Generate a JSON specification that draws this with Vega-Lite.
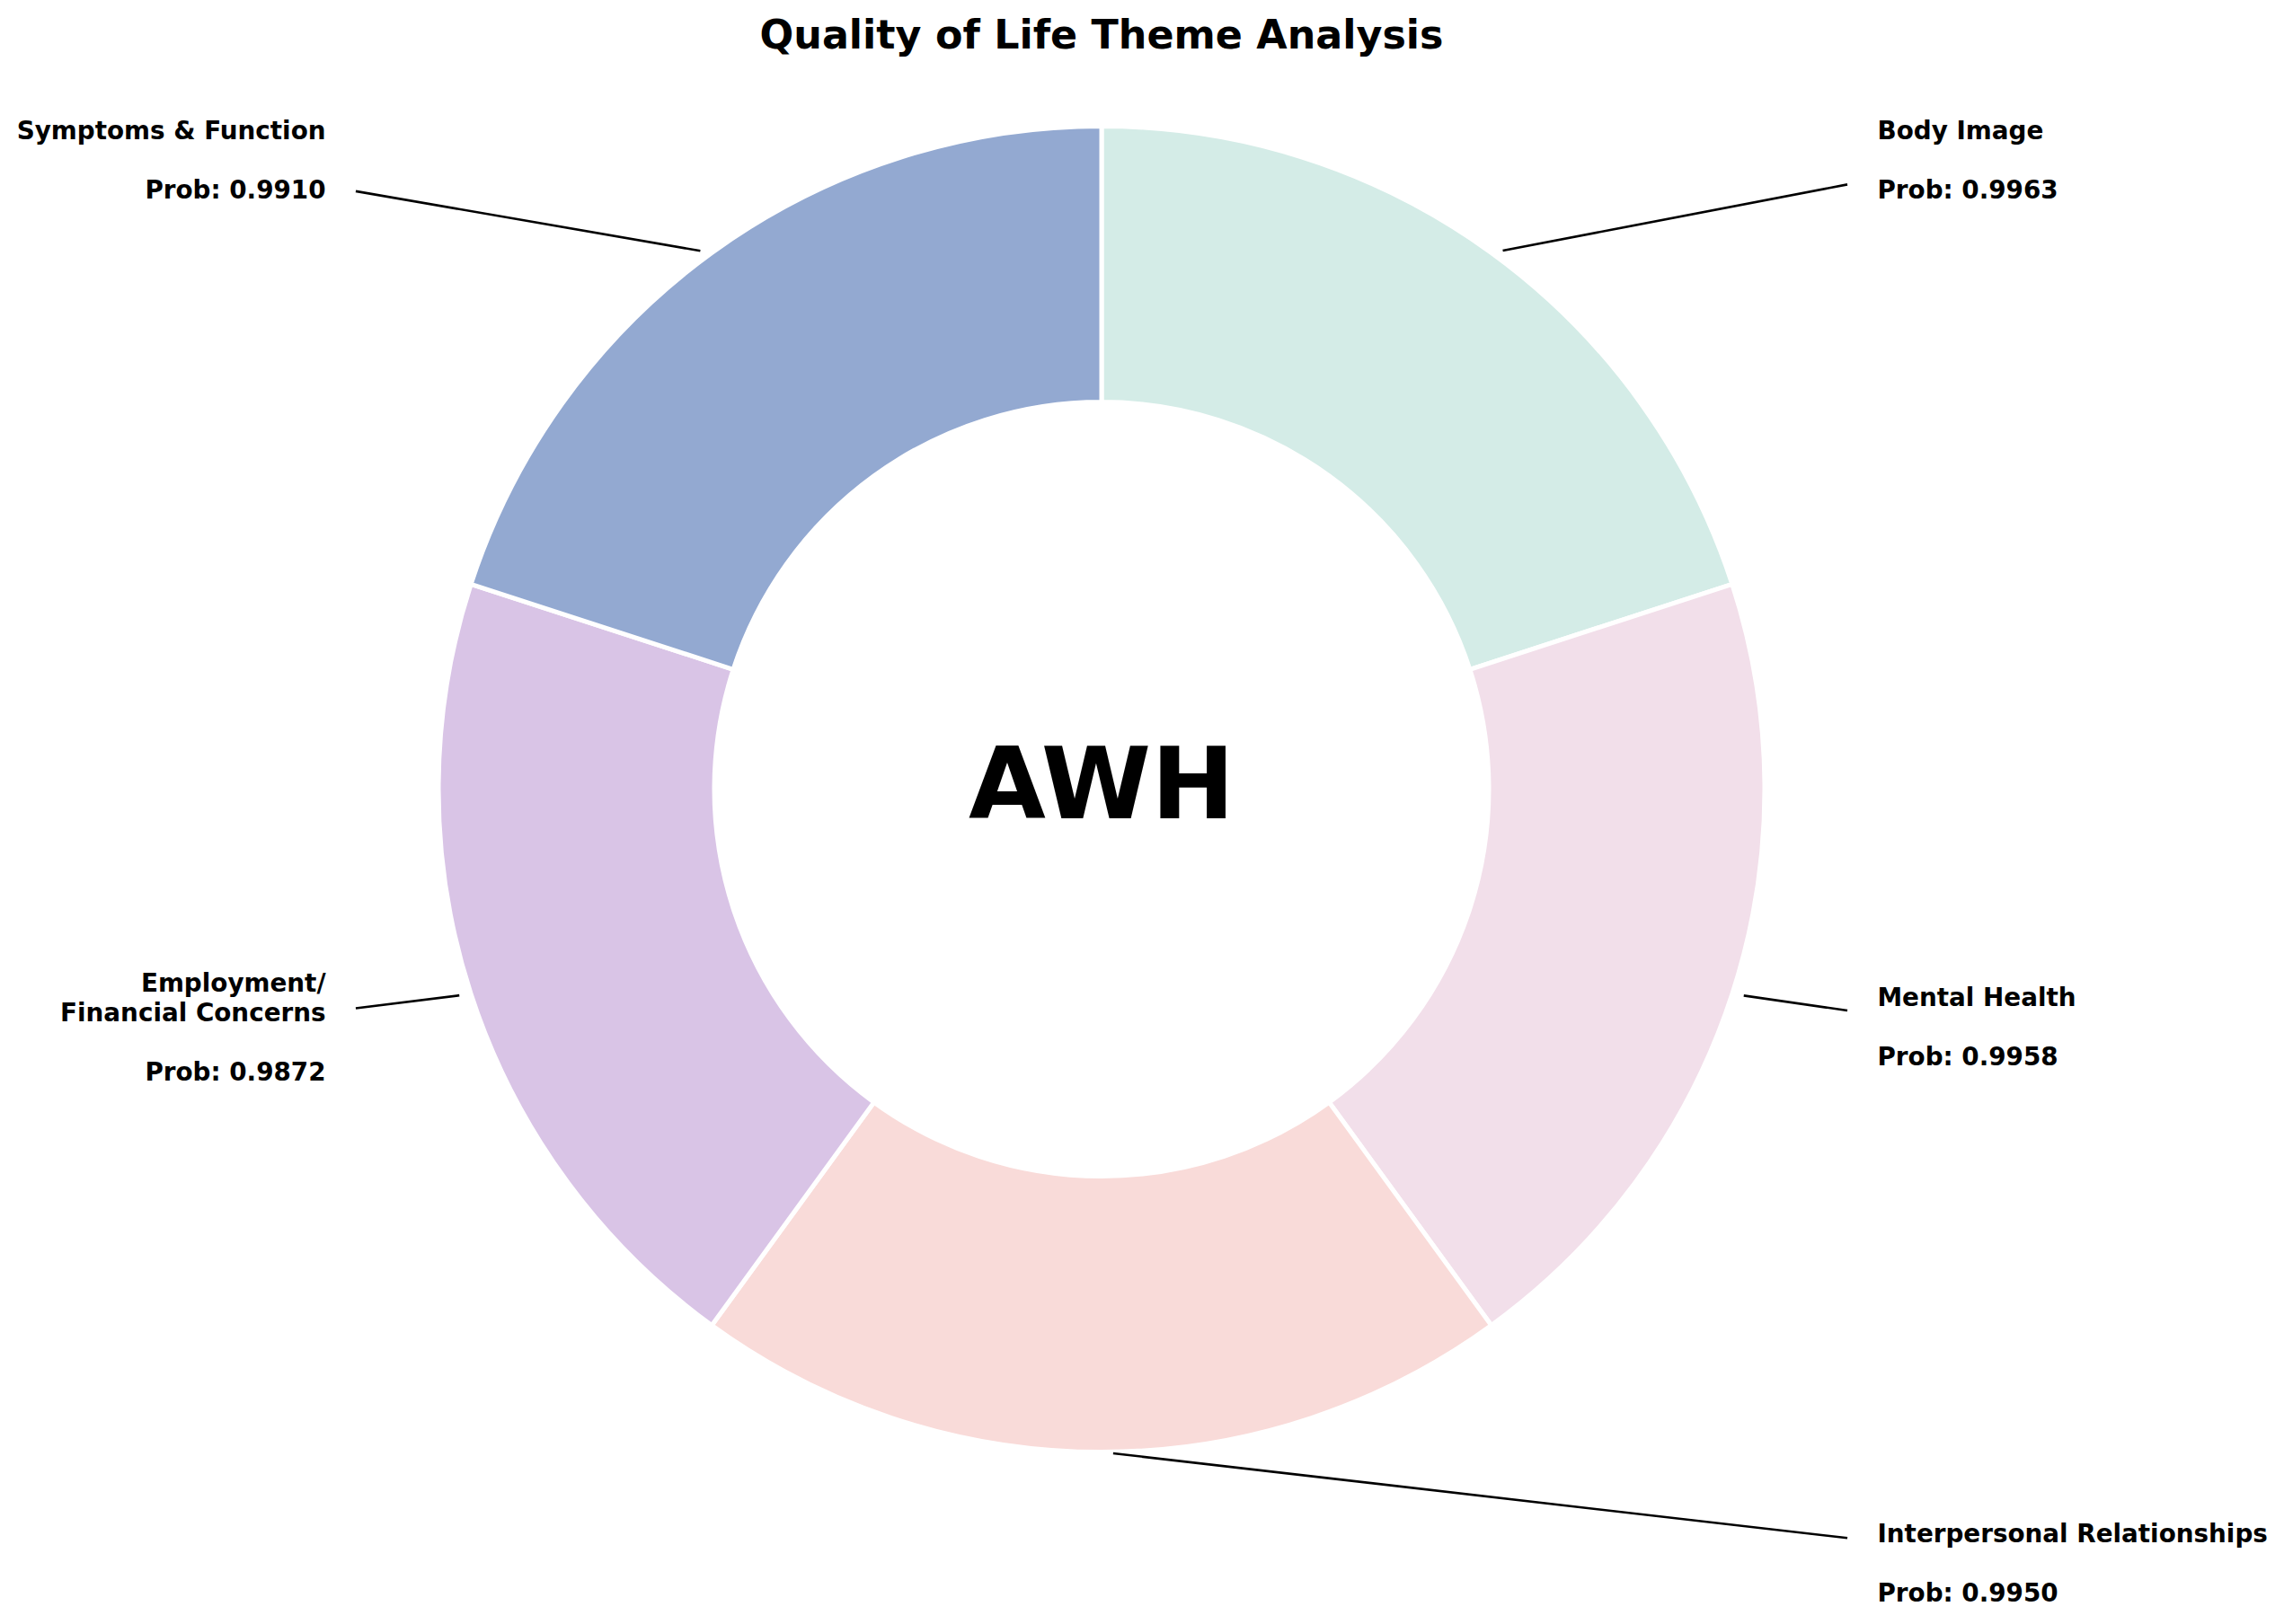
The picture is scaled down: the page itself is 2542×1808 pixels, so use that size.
{
  "$schema": "https://vega.github.io/schema/vega-lite/v6.json",
  "width": 2542,
  "height": 1808,
  "autosize": {"type": "none"},
  "padding": 0,
  "background": "white",
  "config": {"view": {"stroke": null}},
  "data": {
    "values": [
      {"theme": "Body Image", "prob": 0.9963, "share": 1},
      {"theme": "Mental Health", "prob": 0.9958, "share": 1},
      {"theme": "Interpersonal Relationships", "prob": 0.9950, "share": 1},
      {"theme": "Employment/Financial Concerns", "prob": 0.9872, "share": 1},
      {"theme": "Symptoms & Function", "prob": 0.9910, "share": 1}
    ]
  },
  "transform": [
    {"window": [{"op": "row_number", "as": "idx"}]},
    {"joinaggregate": [{"op": "sum", "field": "share", "as": "tot"}]},
    {"stack": "share", "groupby": [], "sort": [{"field": "idx", "order": "ascending"}], "as": ["s0", "s1"]},
    {"calculate": "PI * (datum.s0 + datum.s1) / datum.tot", "as": "ang"},
    {"calculate": "sin(datum.ang)", "as": "ux"},
    {"calculate": "cos(datum.ang)", "as": "uy"},
    {"calculate": "datum.ux >= -1e-9 ? 1 : -1", "as": "sx"},
    {"calculate": "1.17 * datum.sx", "as": "tx"},
    {"calculate": "1.17 * datum.uy", "as": "ty"},
    {"calculate": "replace(datum.theme, '/', '/|')", "as": "name"},
    {"calculate": "'Prob: ' + format(datum.prob, '.4f')", "as": "probTxt"},
    {"calculate": "indexof(datum.name, '|')", "as": "brk"},
    {"calculate": "(datum.brk >= 0 ? 2 : 1) + 2", "as": "nlines"},
    {"calculate": "datum.ty + (datum.nlines - 1) * 0.5 * 33 / 738", "as": "yName"},
    {"calculate": "datum.ty - (datum.nlines - 1) * 0.5 * 33 / 738", "as": "yProb"},
    {"calculate": "max(datum.brk, length(datum.name) - datum.brk - 1, length(datum.probTxt))", "as": "nchar"},
    {"calculate": "datum.tx + datum.sx * datum.nchar * 0.0112", "as": "cx"},
    {"calculate": "1.1247 * datum.sx", "as": "ex"},
    {"calculate": "datum.uy + (datum.ty - datum.uy) * (datum.ex - datum.ux) / (datum.cx - datum.ux)", "as": "ey"},
    {"calculate": "sqrt(pow(datum.ex - datum.ux, 2) + pow(datum.ey - datum.uy, 2))", "as": "dd"},
    {"calculate": "datum.ux + 0.0176 * (datum.ex - datum.ux) / datum.dd", "as": "px"},
    {"calculate": "datum.uy + 0.0176 * (datum.ey - datum.uy) / datum.dd", "as": "py"}
  ],
  "layer": [
    {
      "mark": {"type": "arc", "outerRadius": 738, "innerRadius": 431, "stroke": "white", "strokeWidth": 5},
      "encoding": {
        "x": {"datum": 0, "type": "quantitative", "scale": {"domain": [-1.66125, 1.7832], "nice": false, "zero": false}, "axis": null},
        "y": {"datum": 0, "type": "quantitative", "scale": {"domain": [-1.25949, 1.19038], "nice": false, "zero": false}, "axis": null},
        "theta": {"field": "share", "type": "quantitative", "stack": true},
        "order": {"field": "idx", "type": "quantitative"},
        "color": {
          "field": "theme", "type": "nominal", "legend": null,
          "scale": {
            "domain": ["Body Image", "Mental Health", "Interpersonal Relationships", "Employment/Financial Concerns", "Symptoms & Function"],
            "range": ["#d4ece7", "#f2dfea", "#f9dbd9", "#d9c4e6", "#93a9d1"]
          }
        }
      }
    },
    {
      "mark": {"type": "rule", "color": "black", "strokeWidth": 2.6},
      "encoding": {
        "x": {"field": "px", "type": "quantitative", "scale": {"domain": [-1.66125, 1.7832], "nice": false, "zero": false}, "axis": null},
        "y": {"field": "py", "type": "quantitative", "scale": {"domain": [-1.25949, 1.19038], "nice": false, "zero": false}, "axis": null},
        "x2": {"field": "ex"},
        "y2": {"field": "ey"}
      }
    },
    {
      "transform": [{"filter": "datum.sx > 0"}],
      "mark": {"type": "text", "align": "left", "baseline": "middle", "font": "DejaVu Sans", "fontWeight": "bold", "fontSize": 27.8, "lineBreak": "|", "lineHeight": 33, "color": "black"},
      "encoding": {
        "x": {"field": "tx", "type": "quantitative", "scale": {"domain": [-1.66125, 1.7832], "nice": false, "zero": false}, "axis": null},
        "y": {"field": "yName", "type": "quantitative", "scale": {"domain": [-1.25949, 1.19038], "nice": false, "zero": false}, "axis": null},
        "text": {"field": "name"}
      }
    },
    {
      "transform": [{"filter": "datum.sx > 0"}],
      "mark": {"type": "text", "align": "left", "baseline": "middle", "font": "DejaVu Sans", "fontWeight": "bold", "fontSize": 27.8, "color": "black"},
      "encoding": {
        "x": {"field": "tx", "type": "quantitative", "scale": {"domain": [-1.66125, 1.7832], "nice": false, "zero": false}, "axis": null},
        "y": {"field": "yProb", "type": "quantitative", "scale": {"domain": [-1.25949, 1.19038], "nice": false, "zero": false}, "axis": null},
        "text": {"field": "probTxt"}
      }
    },
    {
      "transform": [{"filter": "datum.sx < 0"}],
      "mark": {"type": "text", "align": "right", "baseline": "middle", "font": "DejaVu Sans", "fontWeight": "bold", "fontSize": 27.8, "lineBreak": "|", "lineHeight": 33, "color": "black"},
      "encoding": {
        "x": {"field": "tx", "type": "quantitative", "scale": {"domain": [-1.66125, 1.7832], "nice": false, "zero": false}, "axis": null},
        "y": {"field": "yName", "type": "quantitative", "scale": {"domain": [-1.25949, 1.19038], "nice": false, "zero": false}, "axis": null},
        "text": {"field": "name"}
      }
    },
    {
      "transform": [{"filter": "datum.sx < 0"}],
      "mark": {"type": "text", "align": "right", "baseline": "middle", "font": "DejaVu Sans", "fontWeight": "bold", "fontSize": 27.8, "color": "black"},
      "encoding": {
        "x": {"field": "tx", "type": "quantitative", "scale": {"domain": [-1.66125, 1.7832], "nice": false, "zero": false}, "axis": null},
        "y": {"field": "yProb", "type": "quantitative", "scale": {"domain": [-1.25949, 1.19038], "nice": false, "zero": false}, "axis": null},
        "text": {"field": "probTxt"}
      }
    },
    {
      "data": {"values": [{"centre": "AWH"}]},
      "mark": {"type": "text", "align": "center", "baseline": "middle", "font": "DejaVu Sans", "fontWeight": "bold", "fontSize": 111, "color": "black"},
      "encoding": {
        "x": {"datum": 0, "type": "quantitative", "scale": {"domain": [-1.66125, 1.7832], "nice": false, "zero": false}, "axis": null},
        "y": {"datum": 0, "type": "quantitative", "scale": {"domain": [-1.25949, 1.19038], "nice": false, "zero": false}, "axis": null},
        "text": {"field": "centre"}
      }
    },
    {
      "data": {"values": [{"title": "Quality of Life Theme Analysis"}]},
      "mark": {"type": "text", "align": "center", "baseline": "middle", "font": "DejaVu Sans", "fontWeight": "bold", "fontSize": 44.4, "color": "black"},
      "encoding": {
        "x": {"datum": 0, "type": "quantitative", "scale": {"domain": [-1.66125, 1.7832], "nice": false, "zero": false}, "axis": null},
        "y": {"datum": 1.1351, "type": "quantitative", "scale": {"domain": [-1.25949, 1.19038], "nice": false, "zero": false}, "axis": null},
        "text": {"field": "title"}
      }
    }
  ]
}
